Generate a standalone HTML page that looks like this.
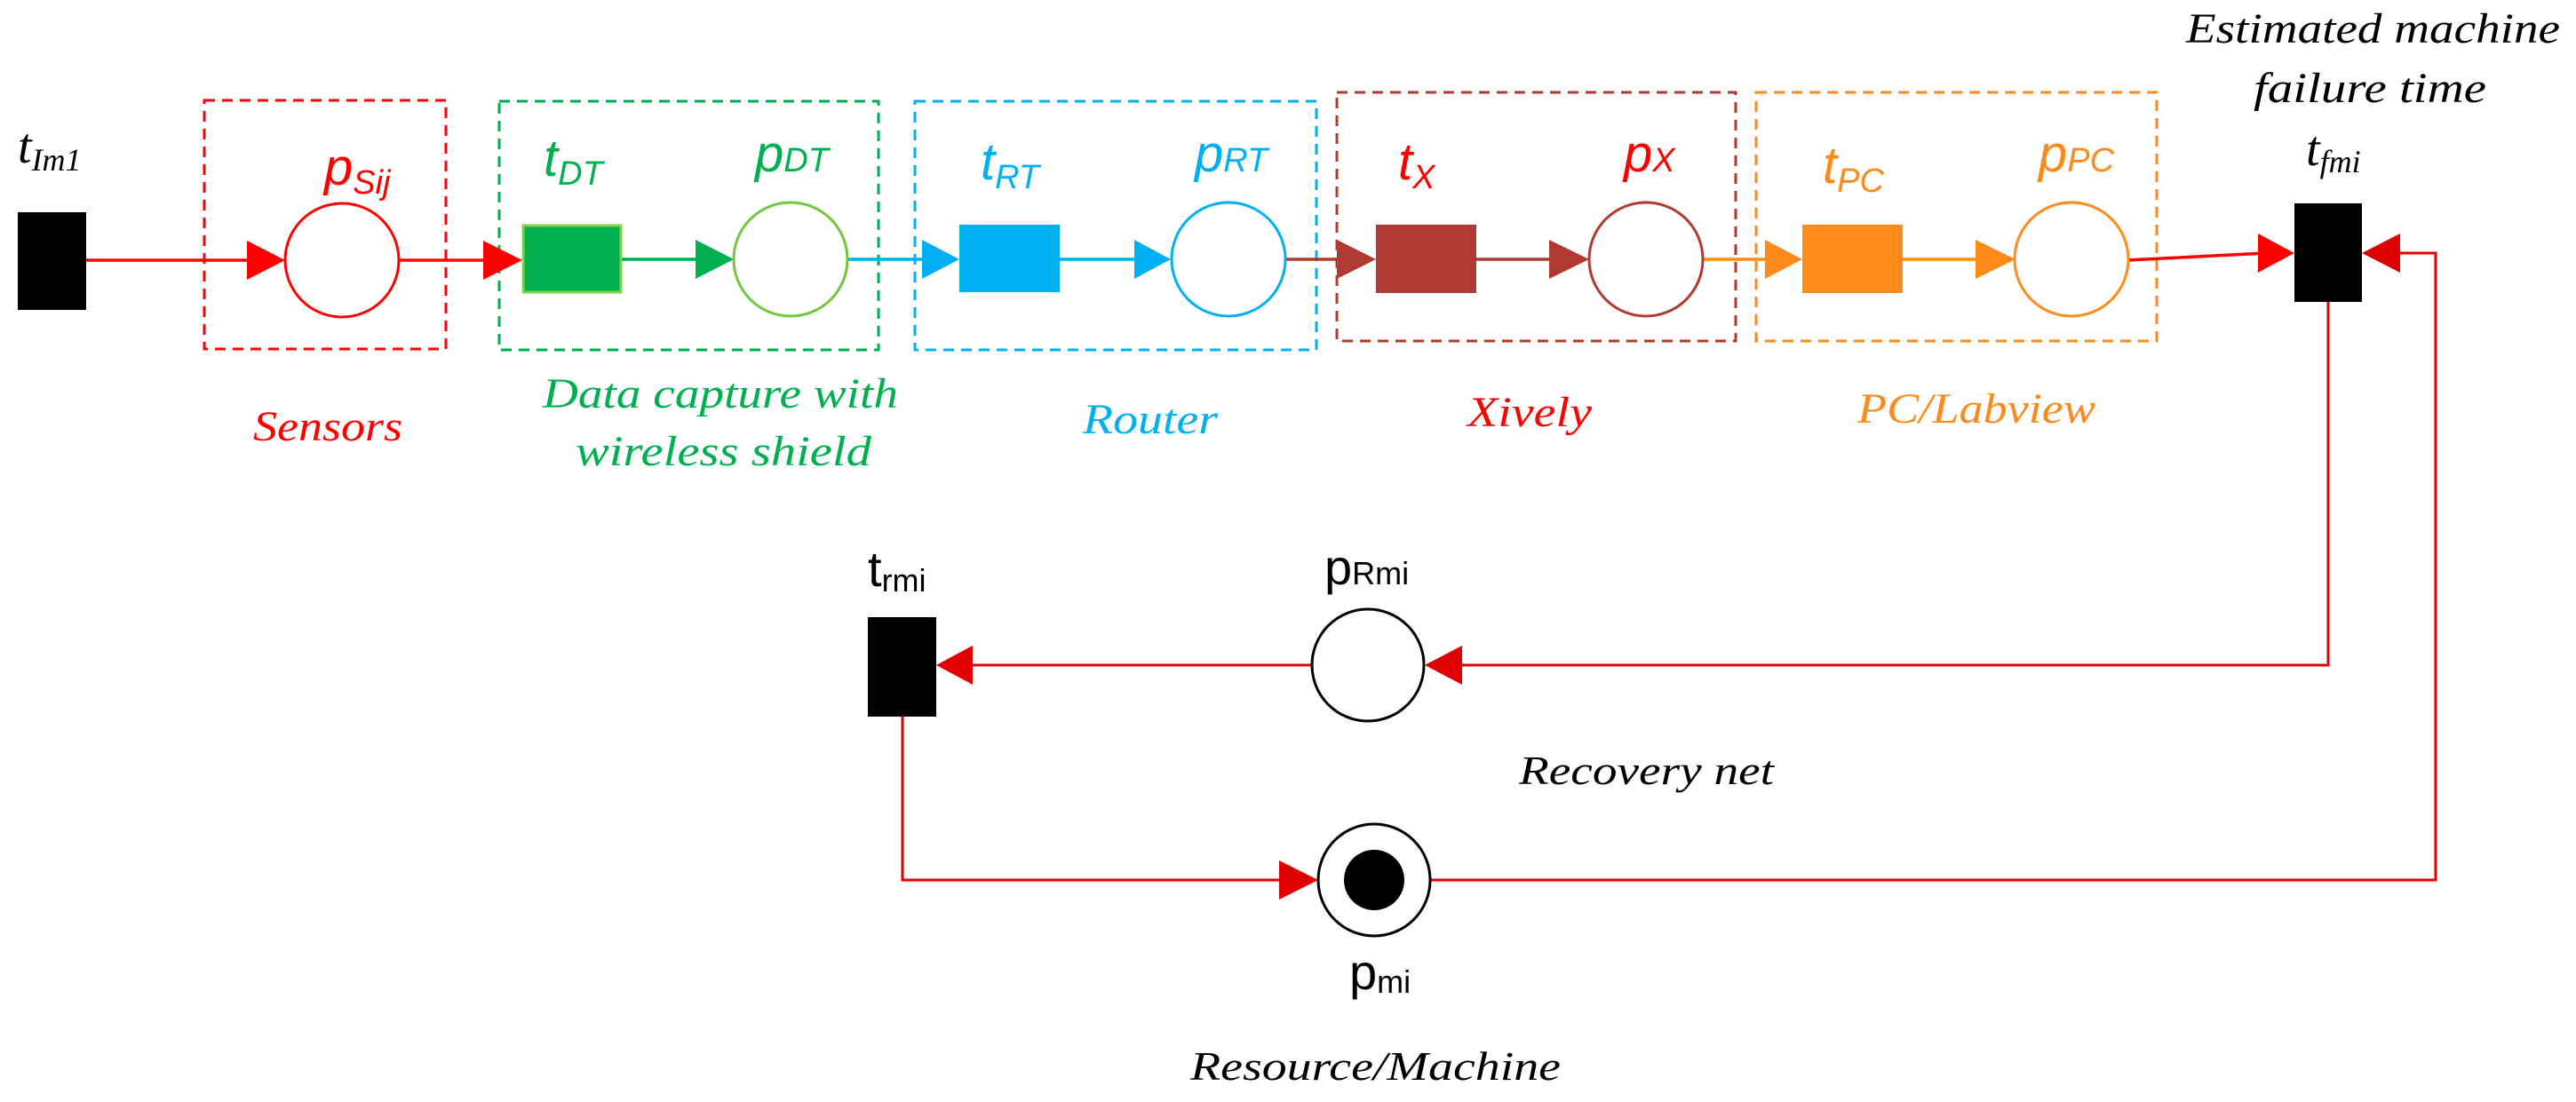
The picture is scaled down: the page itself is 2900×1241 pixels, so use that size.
<!DOCTYPE html>
<html><head><meta charset="utf-8"><style>html,body{margin:0;padding:0;background:#fff}svg{display:block}</style></head>
<body>
<svg width="2900" height="1241" viewBox="0 0 2900 1241" xmlns="http://www.w3.org/2000/svg">
<g fill="none" stroke-width="3" stroke-dasharray="12,8">
<rect x="230" y="113" width="272" height="280" stroke="#ff0000"/>
<rect x="562" y="114" width="427" height="280" stroke="#00b050"/>
<rect x="1030" y="114" width="452" height="280" stroke="#00b0f0"/>
<rect x="1505" y="104" width="449" height="280" stroke="#b03a32"/>
<rect x="1977" y="104" width="451" height="280" stroke="#fd8a1a"/>
</g>
<!-- lines row 1 -->
<g stroke-width="3.5">
<line x1="96" y1="293" x2="290" y2="293" stroke="#ff0000"/>
<line x1="450" y1="293" x2="555" y2="293" stroke="#ff0000"/>
<line x1="699" y1="292" x2="790" y2="292" stroke="#00b050"/>
<line x1="955" y1="292" x2="1045" y2="292" stroke="#00b0f0"/>
<line x1="1193" y1="292" x2="1285" y2="292" stroke="#00b0f0"/>
<line x1="1448" y1="292" x2="1512" y2="292" stroke="#b03a32"/>
<line x1="1662" y1="292" x2="1750" y2="292" stroke="#b03a32"/>
<line x1="1916" y1="292" x2="1995" y2="292" stroke="#fd8a1a"/>
<line x1="2142" y1="292" x2="2230" y2="292" stroke="#fd8a1a"/>
<line x1="2395" y1="293" x2="2550" y2="285" stroke="#ff0000"/>
</g>
<!-- arrowheads row 1 -->
<polygon points="278,271 321,293 278,315" fill="#ff0000"/>
<polygon points="544,271 588,293 544,315" fill="#ff0000"/>
<polygon points="783,270 826,292 783,314" fill="#00b050"/>
<polygon points="1038,270 1080,292 1038,314" fill="#00b0f0"/>
<polygon points="1277,270 1318,292 1277,314" fill="#00b0f0"/>
<polygon points="1505,270 1549,292 1505,314" fill="#b03a32"/>
<polygon points="1744,270 1789,292 1744,314" fill="#b03a32"/>
<polygon points="1987,270 2029,292 1987,314" fill="#fd8a1a"/>
<polygon points="2224,270 2269,292 2224,314" fill="#fd8a1a"/>
<polygon points="2542,263 2583,285 2542,307" fill="#ff0000"/>
<polygon points="2702,263 2659,285 2702,307" fill="#dd0000"/>
<!-- nodes row 1 -->
<rect x="20" y="239" width="77" height="110" fill="#000"/>
<circle cx="385" cy="293" r="64" fill="#fff" stroke="#ff0000" stroke-width="3"/>
<rect x="589" y="254" width="110" height="75" fill="#00b050" stroke="#7ed348" stroke-width="3"/>
<circle cx="890" cy="292" r="64" fill="#fff" stroke="#70c83c" stroke-width="3"/>
<rect x="1080" y="253" width="113" height="76" fill="#00b0f0"/>
<circle cx="1383" cy="292" r="64" fill="#fff" stroke="#00b0f0" stroke-width="3"/>
<rect x="1549" y="253" width="113" height="77" fill="#b03a32"/>
<circle cx="1853" cy="292" r="64" fill="#fff" stroke="#b03a32" stroke-width="3"/>
<rect x="2029" y="253" width="113" height="77" fill="#fd8a1a"/>
<circle cx="2332" cy="292" r="64" fill="#fff" stroke="#fd8a1a" stroke-width="3"/>
<rect x="2583" y="229" width="76" height="111" fill="#000"/>
<!-- recovery lines -->
<g stroke="#e00000" stroke-width="3" fill="none">
<polyline points="2702,285 2742,285 2742,991 1609,991"/>
<polyline points="2621,340 2621,749 1640,749"/>
<line x1="1477" y1="749" x2="1090" y2="749"/>
<polyline points="1016,807 1016,991 1445,991"/>
</g>
<polygon points="1646,727 1604,749 1646,771" fill="#e00000"/>
<polygon points="1095,727 1054,749 1095,771" fill="#e00000"/>
<polygon points="1440,969 1484,991 1440,1013" fill="#e00000"/>
<rect x="977" y="695" width="77" height="112" fill="#000"/>
<circle cx="1540" cy="749" r="63" fill="#fff" stroke="#000" stroke-width="3"/>
<circle cx="1547" cy="991" r="63" fill="#fff" stroke="#000" stroke-width="3"/>
<circle cx="1547" cy="991" r="34" fill="#000"/>
<!-- labels -->
<g font-family="Liberation Sans, sans-serif" font-style="italic">
<text x="365" y="208" font-size="58" fill="#ff0000">p<tspan font-size="38" dy="10">Sij</tspan></text>
<text x="612" y="198" font-size="58" fill="#00b050">t<tspan font-size="38" dy="10">DT</tspan></text>
<text x="850" y="193" font-size="58" fill="#00b050">p<tspan font-size="38" dy="0">DT</tspan></text>
<text x="1104" y="202" font-size="58" fill="#00b0f0">t<tspan font-size="38" dy="10">RT</tspan></text>
<text x="1345" y="193" font-size="58" fill="#00b0f0">p<tspan font-size="38" dy="0">RT</tspan></text>
<text x="1574" y="202" font-size="58" fill="#ff0000">t<tspan font-size="38" dy="10">X</tspan></text>
<text x="1828" y="193" font-size="58" fill="#ff0000">p<tspan font-size="38" dy="0">X</tspan></text>
<text x="2052" y="206" font-size="58" fill="#fd8a1a">t<tspan font-size="38" dy="10">PC</tspan></text>
<text x="2295" y="193" font-size="58" fill="#fd8a1a">p<tspan font-size="38" dy="0">PC</tspan></text>
</g>
<g font-family="Liberation Sans, sans-serif" fill="#000">
<text x="977" y="660" font-size="56">t<tspan font-size="36" dy="6">rmi</tspan></text>
<text x="1491" y="658" font-size="56">p<tspan font-size="36" dy="0">Rmi</tspan></text>
<text x="1519" y="1114" font-size="56">p<tspan font-size="36" dy="4">mi</tspan></text>
</g>
<g font-family="Liberation Serif, serif" font-style="italic">
<text x="20" y="183" font-size="56" fill="#000">t<tspan font-size="36" dy="9">Im1</tspan></text>
<text x="2596" y="186" font-size="56" fill="#000">t<tspan font-size="36" dy="8">fmi</tspan></text>
<text x="2461" y="48" font-size="48" fill="#000" textLength="421" lengthAdjust="spacingAndGlyphs">Estimated machine</text>
<text x="2537" y="115" font-size="48" fill="#000" textLength="262" lengthAdjust="spacingAndGlyphs">failure time</text>
<text x="285" y="496" font-size="48" fill="#ff0000" textLength="168" lengthAdjust="spacingAndGlyphs">Sensors</text>
<text x="611" y="459" font-size="48" fill="#00b050" textLength="400" lengthAdjust="spacingAndGlyphs">Data capture with</text>
<text x="648" y="524" font-size="48" fill="#00b050" textLength="333" lengthAdjust="spacingAndGlyphs">wireless shield</text>
<text x="1219" y="488" font-size="48" fill="#00b0f0" textLength="152" lengthAdjust="spacingAndGlyphs">Router</text>
<text x="1652" y="480" font-size="48" fill="#ff0000" textLength="140" lengthAdjust="spacingAndGlyphs">Xively</text>
<text x="2091" y="476" font-size="48" fill="#fd8a1a" textLength="268" lengthAdjust="spacingAndGlyphs">PC/Labview</text>
<text x="1710" y="883" font-size="46" fill="#000" textLength="287" lengthAdjust="spacingAndGlyphs">Recovery net</text>
<text x="1340" y="1216" font-size="46" fill="#000" textLength="417" lengthAdjust="spacingAndGlyphs">Resource/Machine</text>
</g>
</svg>
</body></html>
